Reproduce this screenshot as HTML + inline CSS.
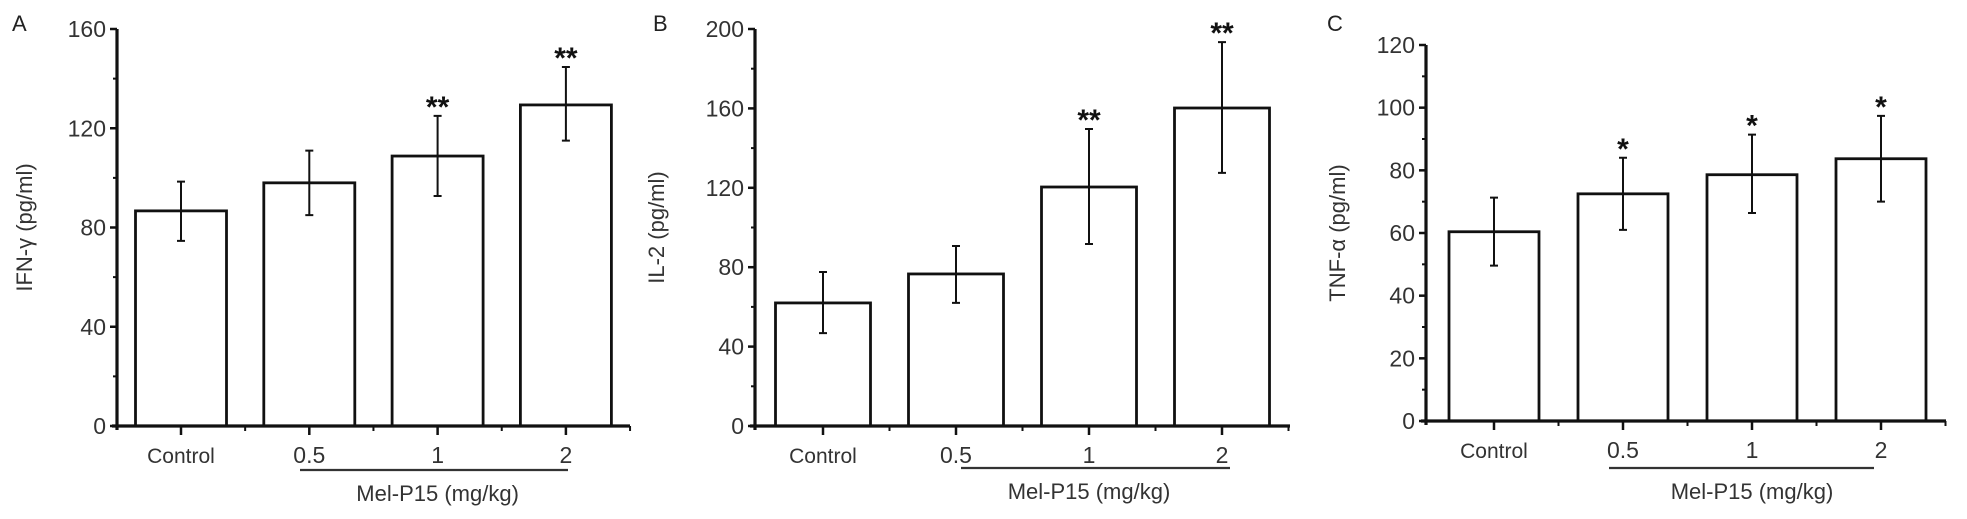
<!DOCTYPE html>
<html><head><meta charset="utf-8"><style>
html,body{margin:0;padding:0;background:#fff;}
svg{display:block;font-family:"Liberation Sans",Arial,sans-serif;}
</style></head><body>
<svg id="fig" width="1967" height="519" viewBox="0 0 1967 519"></svg>
<script>
const categories = ["Control","0.5","1","2"];
const ifnValues = [86.7, 98, 108.8, 129.4];
const ifnErrHigh = [98.5, 111, 125, 144.7];
const ifnErrLow = [74.6, 85, 92.7, 115];
const ifnStars = ["", "", "**", "**"];
const ifnTicks = [0,40,80,120,160];
const il2Values = [62, 76.6, 120.4, 160.2];
const il2ErrHigh = [77.6, 90.7, 149.6, 193.4];
const il2ErrLow = [46.8, 62, 91.7, 127.5];
const il2Stars = ["", "", "**", "**"];
const il2Ticks = [0,40,80,120,160,200];
const tnfValues = [60.4, 72.5, 78.6, 83.7];
const tnfErrHigh = [71.3, 84, 91.4, 97.4];
const tnfErrLow = [49.6, 61, 66.4, 70];
const tnfStars = ["", "*", "*", "*"];
const tnfTicks = [0,20,40,60,80,100,120];

const NS="http://www.w3.org/2000/svg";
const svg=document.getElementById('fig');
function mk(tag,attrs,parent,text){const e=document.createElementNS(NS,tag);for(const k in attrs)e.setAttribute(k,attrs[k]);if(text!==undefined)e.textContent=text;(parent||svg).appendChild(e);return e;}

function panel(cfg){
  const g=mk('g',{});
  
  
  const ymax=cfg.ticks[cfg.ticks.length-1];
  const y=v=>cfg.y0-(v/ymax)*(cfg.y0-cfg.yTop);
  const step=(cfg.cx[1]-cfg.cx[0]);
  const xc=i=>cfg.cx[0]+i*step;
  cfg.values.forEach((v,i)=>{
    const r=mk('rect',{x:xc(i)-cfg.bw/2,y:y(v),width:cfg.bw,height:cfg.y0-y(v),fill:'#fff',stroke:'#111','stroke-width':2.8},g);
    
    
    const hi=y(cfg.hi[i]),lo=y(cfg.lo[i]);
    const e=mk('path',{d:`M${xc(i)},${hi}V${lo}M${xc(i)-4},${hi}H${xc(i)+4}M${xc(i)-4},${lo}H${xc(i)+4}`,stroke:'#111','stroke-width':2,fill:'none'},g);
    
    
    if(cfg.stars[i]){
      const s=mk('text',{x:xc(i),y:hi+1,'text-anchor':'middle','font-size':30,'font-weight':'bold',fill:'#111'},g,cfg.stars[i]);
      
      
    }
  });
  const ax=mk('path',{d:`M${cfg.ax},${cfg.yTop}V${cfg.y0+4}M${cfg.ax-5},${cfg.y0}H${cfg.xEnd}`,stroke:'#111','stroke-width':3.2,fill:'none'},g);
  
  
  cfg.ticks.forEach((t,k)=>{
    mk('line',{x1:cfg.ax-7,x2:cfg.ax,y1:y(t),y2:y(t),stroke:'#111','stroke-width':2.5},g);
    if(k<cfg.ticks.length-1){const m=(t+cfg.ticks[k+1])/2;mk('line',{x1:cfg.ax-4,x2:cfg.ax,y1:y(m),y2:y(m),stroke:'#111','stroke-width':2},g);}
    const tl=mk('text',{x:cfg.ax-11,y:y(t)+8,'text-anchor':'end','font-size':23,fill:'#333'},g,t);
    
    
  });
  categories.forEach((c,i)=>{
    mk('line',{x1:xc(i),x2:xc(i),y1:cfg.y0,y2:cfg.y0+9,stroke:'#111','stroke-width':2.5},g);
    mk('line',{x1:xc(i)+step/2,x2:xc(i)+step/2,y1:cfg.y0,y2:cfg.y0+5,stroke:'#111','stroke-width':2},g);
    const tl=mk('text',{x:xc(i),y:cfg.y0+37,'text-anchor':'middle','font-size':c==='Control'?21:23,fill:'#333'},g,c);
    
    
  });
  mk('line',{x1:cfg.ul[0],x2:cfg.ul[1],y1:cfg.ulY,y2:cfg.ulY,stroke:'#333','stroke-width':2.2},g);
  const xt=mk('text',{x:xc(2),y:cfg.ulY+31,'text-anchor':'middle','font-size':22,fill:'#333'},g,'Mel-P15 (mg/kg)');
  
  
  const yt=mk('text',{x:cfg.ytX,y:(cfg.y0+cfg.yTop)/2,'text-anchor':'middle','font-size':22,fill:'#333',transform:`rotate(-90 ${cfg.ytX} ${(cfg.y0+cfg.yTop)/2})`},g,cfg.ytitle);
  
  
  const pl=mk('text',{x:cfg.lbl,y:31,'font-size':22,fill:'#222'},g,cfg.letter);
  
  
}

panel({name:'panel-a-ifn-gamma',letter:'A',lbl:12,ax:117,y0:426,yTop:29,xEnd:630,cx:[181,309.3],bw:91,
  values:ifnValues,hi:ifnErrHigh,lo:ifnErrLow,stars:ifnStars,ticks:ifnTicks,ul:[300,568],ulY:470,ytX:32,ytitle:'IFN-γ (pg/ml)'});
panel({name:'panel-b-il2',letter:'B',lbl:653,ax:755,y0:426,yTop:29,xEnd:1290,cx:[823,956],bw:95,
  values:il2Values,hi:il2ErrHigh,lo:il2ErrLow,stars:il2Stars,ticks:il2Ticks,ul:[961,1230],ulY:468,ytX:664,ytitle:'IL-2 (pg/ml)'});
panel({name:'panel-c-tnf-alpha',letter:'C',lbl:1327,ax:1426,y0:421,yTop:45,xEnd:1946,cx:[1494,1623],bw:90,
  values:tnfValues,hi:tnfErrHigh,lo:tnfErrLow,stars:tnfStars,ticks:tnfTicks,ul:[1609,1874],ulY:468,ytX:1345,ytitle:'TNF-α (pg/ml)'});
</script>
</body></html>
